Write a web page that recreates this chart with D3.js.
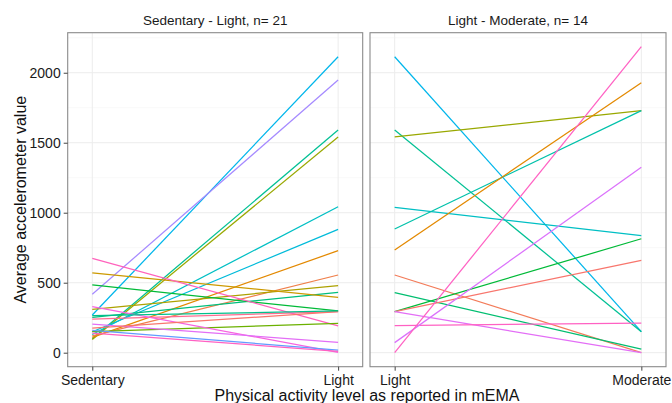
<!DOCTYPE html>
<html>
<head>
<meta charset="utf-8">
<script src="https://cdn.jsdelivr.net/npm/d3@7"></script>
<style>
html,body{margin:0;padding:0;background:#fff;}
svg{display:block;font-family:"Liberation Sans",Arial,sans-serif;}
</style>
</head>
<body>
<svg id="chart" width="672" height="403"></svg>
<script>
// ---- data ----
const leftCategories = ["Sedentary", "Light"];
const rightCategories = ["Light", "Moderate"];
const leftTitle = "Sedentary - Light, n= 21";
const rightTitle = "Light - Moderate, n= 14";
const yTicks = [0, 500, 1000, 1500, 2000];

const leftStart = [269, 417, 100, 95, 130, 150, 110, 120, 310, 253, 571, 484, 240, 674, 150, 329, 205, 160, 175, 140, 265];
const leftEnd   = [2114, 1948, 1591, 1541, 1043, 881, 729, 555, 479, 431, 396, 298, 293, 191, 210, 3, 74, 19, 293, 10, 298];
const leftColors = ["#00B6EB", "#A58AFF", "#00C094", "#99A800", "#00BFC4", "#00BBDA", "#E38900", "#EF7F4A",
  "#ADA100", "#00BE7D", "#CC9900", "#00BA38", "#FF6C91", "#FF62BC", "#6BB100", "#F763E0", "#E36EF6",
  "#619CFF", "#F8766D", "#FF61C3", "#00C08B"];

const rightStart = [2114, 1591, 1541, 1039, 884, 734, 555, 429, 293, 293, 293, 193, 72, 0];
const rightEnd   = [150, 150, 1729, 836, 1729, 1929, 0, 26, 814, 660, 0, 212, 1324, 2186];
const rightColors = ["#00B6EB", "#00C094", "#99A800", "#00BFC4", "#00C1AA", "#E38900", "#F37B59", "#00BE70",
  "#00BA38", "#F8766D", "#E36EF6", "#FF61C3", "#DB72FB", "#FF61C3"];

// ---- layout ----
const svg = d3.select("#chart");
const pTop = 32.7, pBottom = 366.7;
const panels = [
  {x0: 67.7, x1: 362.7, cats: leftCategories, title: leftTitle, s: leftStart, e: leftEnd, c: leftColors},
  {x0: 370, x1: 666, cats: rightCategories, title: rightTitle, s: rightStart, e: rightEnd, c: rightColors}
];

const y = d3.scaleLinear().domain([-100, 2286]).range([pBottom, pTop]);
const minorTicks = [250, 750, 1250, 1750, 2250];

panels.forEach((p, pi) => {
  // categories at positions 1 and 2 with 10% expansion
  const xl = d3.scaleLinear().domain([0.9, 2.1]).range([p.x0, p.x1]);
  const xc = cat => xl(p.cats.indexOf(cat) + 1);

  const g = svg.append("g");
  g.selectAll(".minor").data(minorTicks).join("line")
    .attr("x1", p.x0).attr("x2", p.x1).attr("y1", d => y(d)).attr("y2", d => y(d))
    .attr("stroke", "#f4f4f4").attr("stroke-width", 0.6);
  g.selectAll(".major").data(yTicks).join("line")
    .attr("x1", p.x0).attr("x2", p.x1).attr("y1", d => y(d)).attr("y2", d => y(d))
    .attr("stroke", "#ececec").attr("stroke-width", 1);
  g.selectAll(".vgrid").data(p.cats).join("line")
    .attr("x1", d => xc(d)).attr("x2", d => xc(d)).attr("y1", pTop).attr("y2", pBottom)
    .attr("stroke", "#ececec").attr("stroke-width", 1);

  const rows = p.s.map((v, i) => [{cat: p.cats[0], v: v}, {cat: p.cats[1], v: p.e[i]}]);
  const line = d3.line().x(d => xc(d.cat)).y(d => y(d.v));
  g.selectAll(".ln").data(rows).join("path")
    .attr("d", line).attr("fill", "none")
    .attr("stroke", (d, i) => p.c[i]).attr("stroke-width", 1.25);

  g.append("rect").attr("x", p.x0).attr("y", pTop).attr("width", p.x1 - p.x0).attr("height", pBottom - pTop)
    .attr("fill", "none").attr("stroke", "#8a8a8a").attr("stroke-width", 1.1);

  g.append("text").attr("x", (p.x0 + p.x1) / 2).attr("y", 25).attr("text-anchor", "middle")
    .attr("font-size", 13.5).attr("fill", "#1a1a1a").text(p.title);

  const xa = svg.append("g").attr("transform", `translate(0,${pBottom})`)
    .call(d3.axisBottom(xl).tickValues([1, 2]).tickFormat(d => p.cats[d - 1]).tickSize(4).tickPadding(4));
  xa.select(".domain").remove();
  xa.selectAll(".tick line").attr("stroke", "#444");
  xa.selectAll("text").attr("font-size", 14).attr("fill", "#1a1a1a").attr("font-family", "Liberation Sans, Arial, sans-serif");

  if (pi === 0) {
    const ya = svg.append("g").attr("transform", `translate(${p.x0},0)`)
      .call(d3.axisLeft(y).tickValues(yTicks).tickFormat(d3.format("d")).tickSize(4).tickPadding(3));
    ya.select(".domain").remove();
    ya.selectAll(".tick line").attr("stroke", "#444");
    ya.selectAll("text").attr("font-size", 14).attr("fill", "#1a1a1a").attr("font-family", "Liberation Sans, Arial, sans-serif");
  }
});

svg.append("text").attr("x", 367).attr("y", 401).attr("text-anchor", "middle")
  .attr("font-size", 16).attr("fill", "#111").text("Physical activity level as reported in mEMA");
svg.append("text").attr("transform", `translate(26,${(pTop + pBottom) / 2}) rotate(-90)`)
  .attr("text-anchor", "middle").attr("font-size", 16).attr("fill", "#111").text("Average accelerometer value");
</script>
</body>
</html>
